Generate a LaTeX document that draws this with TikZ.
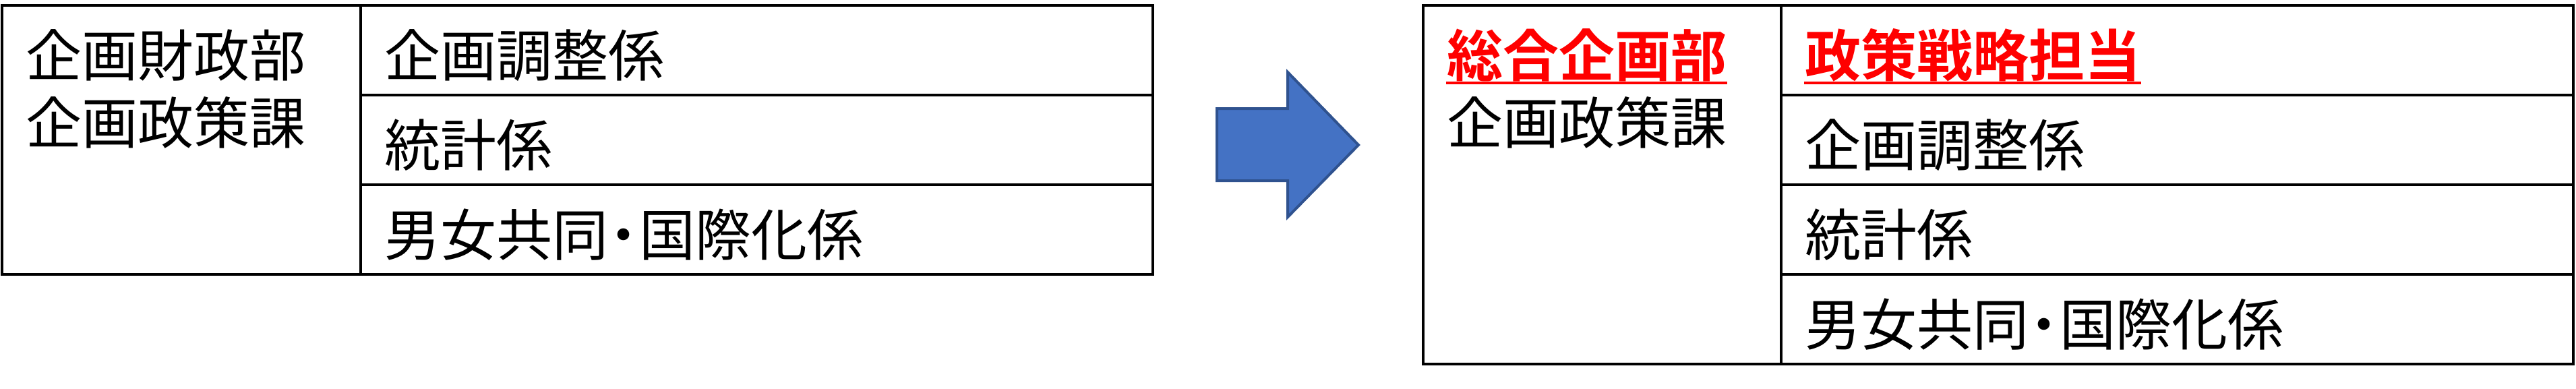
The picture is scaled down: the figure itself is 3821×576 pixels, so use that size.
\documentclass[tikz,border=0pt]{standalone}
\usepackage{fontspec}
\setmainfont{Noto Sans CJK JP}[BoldFont={Noto Sans CJK JP Bold}]
\usetikzlibrary{calc}
\definecolor{arrowfill}{HTML}{4472C4}
\definecolor{arrowline}{HTML}{2F528F}
\tikzset{
  tbl/.style={draw=black, line width=0.7pt},
  txt/.style={anchor=base west, inner sep=0pt, font=\fontsize{16.6pt}{20pt}\selectfont},
  redtxt/.style={txt, text=red, font=\fontsize{16.6pt}{20pt}\selectfont\bfseries},
  uline/.style={draw=red, line width=0.9pt},
}
\newcommand{\mdot}{\kern-0.22em・\kern-0.22em}
\begin{document}
\begin{tikzpicture}[x=0.2pt,y=-0.2pt]
\useasboundingbox (0,0) rectangle (3821,576);
% left table
\draw[tbl] (3,8) rectangle (1710,407);
\draw[tbl] (535,8) -- (535,407);
\draw[tbl] (535,141) -- (1710,141);
\draw[tbl] (535,274) -- (1710,274);
\node[txt] (l1) at (37,113) {企画財政部};
\node[txt] (l2) at (37,213) {企画政策課};
\node[txt] (r1) at (569,113) {企画調整係};
\node[txt] (r2) at (569,246) {統計係};
\node[txt] (r3) at (569,379) {男女共同\mdot 国際化係};
% arrow
\draw[fill=arrowfill, draw=arrowline, line width=0.8pt, line join=miter]
  (1805,161) -- (1910,161) -- (1910,107) -- (2015,215) -- (1910,322) -- (1910,268) -- (1805,268) -- cycle;
% right table
\draw[tbl] (2111,8) rectangle (3817,540);
\draw[tbl] (2642,8) -- (2642,540);
\draw[tbl] (2642,141) -- (3817,141);
\draw[tbl] (2642,274) -- (3817,274);
\draw[tbl] (2642,407) -- (3817,407);
\node[redtxt] (n1) at (2145,113) {総合企画部};
\node[txt] (n2) at (2145,213) {企画政策課};
\node[redtxt] (m0) at (2676,113) {政策戦略担当};
\node[txt] (m1) at (2676,246) {企画調整係};
\node[txt] (m2) at (2676,379) {統計係};
\node[txt] (m3) at (2676,512) {男女共同\mdot 国際化係};
\draw[uline] ($(n1.base west)+(0,10)$) -- ($(n1.base east)+(0,10)$);
\draw[uline] ($(m0.base west)+(0,10)$) -- ($(m0.base east)+(0,10)$);
\end{tikzpicture}
\end{document}
